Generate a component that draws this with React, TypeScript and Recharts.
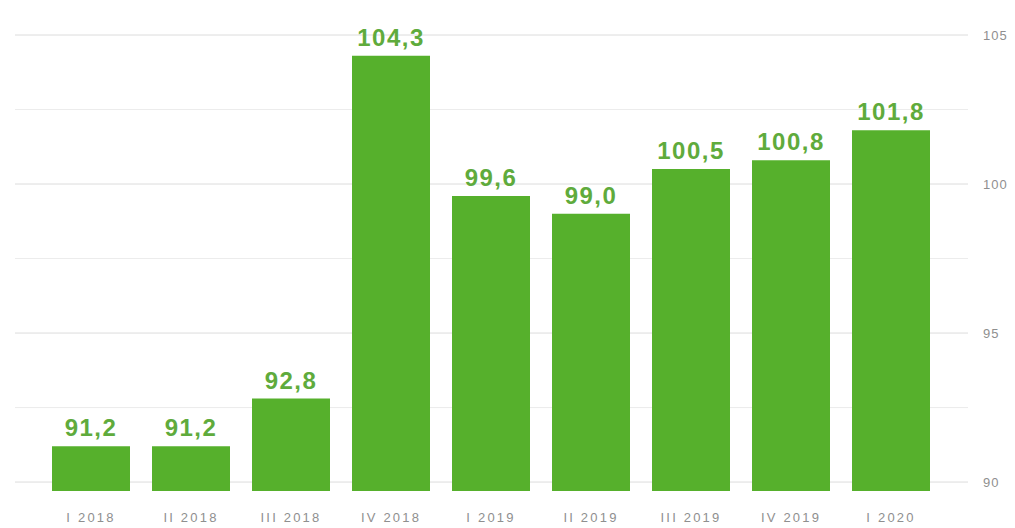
import { BarChart, Bar, XAxis, YAxis, CartesianGrid, LabelList } from "recharts";

const quarters = ["I 2018", "II 2018", "III 2018", "IV 2018", "I 2019", "II 2019", "III 2019", "IV 2019", "I 2020"];
const values = [91.2, 91.2, 92.8, 104.3, 99.6, 99.0, 100.5, 100.8, 101.8];
const yTicks = [90, 95, 100, 105];
const minorTicks = [92.5, 97.5, 102.5];
const yDomain = [89.7, 105];

const data = quarters.map((q, i) => ({ quarter: q, value: values[i] }));

const fmt = (v: number) => v.toFixed(1).replace(".", ",");

export default function App() {
    return (
        <div style={{ width: 1015, height: 528 }}>
            <style>{`body{margin:0}`}</style>
            <BarChart
                width={1015}
                height={528}
                data={data}
                margin={{ top: 35, right: 0, bottom: 7, left: 15 }}
                barCategoryGap="11%"
            >
                {/* faint in-between lines, then the labelled ones */}
                <CartesianGrid vertical={false} yAxisId="r" horizontalValues={minorTicks} stroke="#ececec" />
                <CartesianGrid vertical={false} yAxisId="r" horizontalValues={yTicks} stroke="#dcdcdc" />
                <XAxis
                    dataKey="quarter"
                    axisLine={false}
                    tickLine={false}
                    tickSize={0}
                    tickMargin={22}
                    height={30}
                    interval={0}
                    padding={{ left: 26, right: 27 }}
                    tick={{ fontSize: 13, fill: "#8f8f8f", fontFamily: "Liberation Sans, Arial", letterSpacing: 2.2 }}
                />
                <YAxis
                    yAxisId="r"
                    orientation="right"
                    domain={yDomain}
                    ticks={yTicks}
                    axisLine={false}
                    tickLine={false}
                    tickSize={0}
                    tickMargin={15}
                    width={47}
                    tick={{ fontSize: 13, fill: "#8f8f8f", fontFamily: "Liberation Sans, Arial", letterSpacing: 1 }}
                />
                <Bar dataKey="value" yAxisId="r" fill="#56b02c" isAnimationActive={false}>
                    <LabelList
                        dataKey="value"
                        position="top"
                        offset={10}
                        formatter={(v: number) => fmt(v)}
                        style={{ fontSize: 24, fontWeight: 700, fill: "#5fab3c", fontFamily: "Liberation Sans, Arial", letterSpacing: 1.5 }}
                    />
                </Bar>
            </BarChart>
        </div>
    );
}
